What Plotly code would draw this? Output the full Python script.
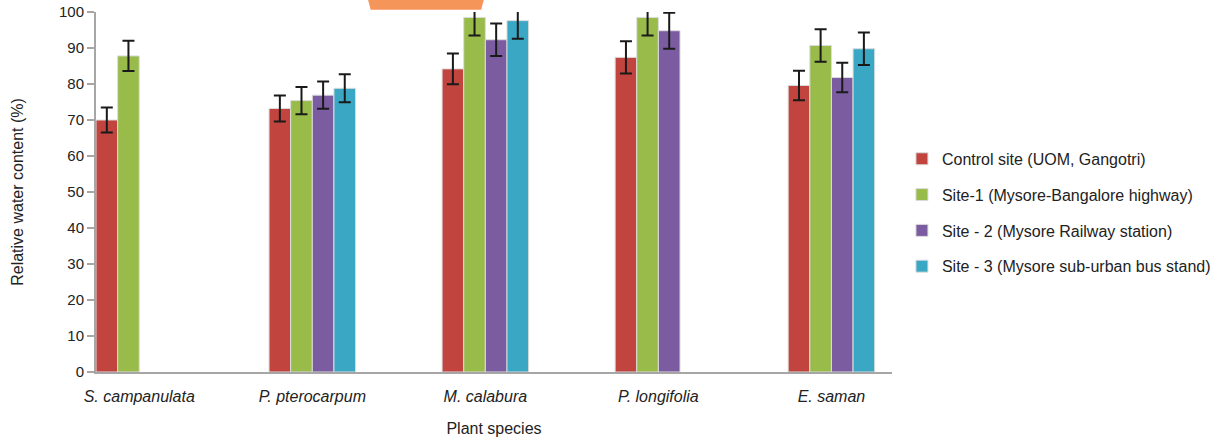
import plotly.graph_objects as go

species = ["S. campanulata", "P. pterocarpum", "M. calabura", "P. longifolia", "E. saman"]
series_names = [
    "Control site (UOM, Gangotri)",
    "Site-1 (Mysore-Bangalore highway)",
    "Site - 2 (Mysore Railway station)",
    "Site - 3 (Mysore sub-urban bus stand)",
]
control = [70.0, 73.2, 84.2, 87.4, 79.6]
control_err = [3.5, 3.6, 4.3, 4.5, 4.1]
site1 = [87.8, 75.4, 98.5, 98.5, 90.7]
site1_err = [4.2, 3.8, 5.0, 5.0, 4.5]
site2 = [None, 76.9, 92.3, 94.8, 81.8]
site2_err = [None, 3.8, 4.5, 5.0, 4.1]
site3 = [None, 78.8, 97.6, None, 89.8]
site3_err = [None, 3.9, 5.0, None, 4.5]
y_ticks = [0, 10, 20, 30, 40, 50, 60, 70, 80, 90, 100]

colors = ["#c1443f", "#98bb4a", "#7b5ca0", "#3aa8c5"]
values = [control, site1, site2, site3]
errors = [control_err, site1_err, site2_err, site3_err]

FONT = "Liberation Sans, Arial, sans-serif"
TXT = "#222222"

fig = go.Figure()
for i, (name, vals, errs, col) in enumerate(zip(series_names, values, errors, colors)):
    fig.add_trace(go.Bar(
        x=species, y=vals, name=name,
        marker=dict(color=col, line=dict(color="#dcdcdc", width=1)),
        error_y=dict(type="data", array=errs, visible=True, color="#1a1a1a", thickness=2, width=6),
        legendgroup=f"g{i}",
    ))

fig.update_layout(
    width=1228, height=440,
    margin=dict(l=96, r=333, t=12, b=68),
    paper_bgcolor="white", plot_bgcolor="white",
    barmode="group", bargap=0.5, bargroupgap=0,
    font=dict(family=FONT, size=16, color=TXT),
    showlegend=True,
    legend=dict(x=1.0125, y=0.442, xanchor="left", yanchor="middle",
                font=dict(family=FONT, size=16, color=TXT), tracegroupgap=12,
                bgcolor="rgba(0,0,0,0)"),
    xaxis=dict(
        type="category", range=[-0.25, 4.35], automargin=False,
        showline=True, linecolor="#a6a6a6", linewidth=2,
        ticks="", showgrid=False, ticklabelstandoff=9,
        tickfont=dict(family=FONT, size=16, style="italic", color=TXT),
        title=dict(text="Plant species", font=dict(family=FONT, size=16, color=TXT), standoff=19),
    ),
    yaxis=dict(
        range=[0, 100], tickvals=y_ticks, automargin=False,
        showline=True, linecolor="#a6a6a6", linewidth=2,
        ticks="outside", ticklen=7, tickcolor="#a6a6a6", tickwidth=2,
        showgrid=False, zeroline=False, ticklabeloverflow="allow",
        tickfont=dict(family=FONT, size=15, color=TXT),
        title=dict(text="Relative water content (%)", font=dict(family=FONT, size=16, color=TXT), standoff=31),
    ),
)

# decorative orange banner fragment visible at the top edge of the reference image
fig.add_shape(type="path", xref="paper", yref="paper",
              path="M 0.340 1.05 L 0.489 1.05 L 0.484 1.006 L 0.345 1.006 Z",
              fillcolor="#f5955a", line=dict(width=0), layer="above")

fig.write_html("out.html", config={"displayModeBar": False},
               post_script="document.body.style.margin='0';")
